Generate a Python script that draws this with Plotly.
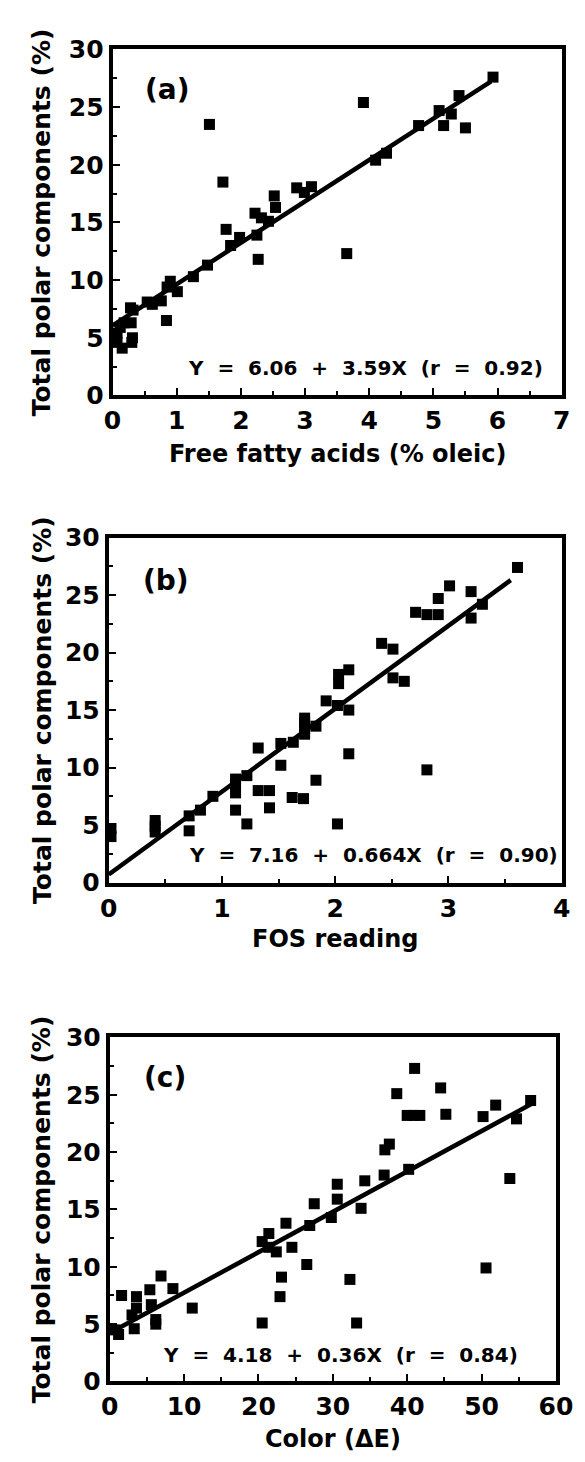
import plotly.graph_objects as go

# ---------------- data ----------------
# Panel (a): Free fatty acids (% oleic) vs total polar components (%)
ffa_x = [5.93, 5.40, 5.28, 5.09, 5.16, 5.50, 4.77, 3.91, 4.27, 4.10,
         1.51, 1.72, 2.87, 2.99, 3.10, 2.52, 2.54, 2.22, 2.32, 2.43,
         1.77, 2.25, 2.27, 1.98, 1.84, 3.65, 1.48, 1.26, 0.90, 1.01,
         0.85, 0.76, 0.54, 0.62, 0.84, 0.28, 0.32, 0.29, 0.31, 0.30,
         0.15, 0.07, 0.07, 0.12, 0.18]
ffa_y = [27.6, 26.0, 24.4, 24.7, 23.4, 23.2, 23.4, 25.4, 21.0, 20.4,
         23.5, 18.5, 18.0, 17.6, 18.1, 17.3, 16.3, 15.8, 15.4, 15.1,
         14.4, 13.9, 11.8, 13.7, 13.0, 12.3, 11.3, 10.3, 9.9, 9.0,
         9.4, 8.2, 8.1, 7.9, 6.5, 7.6, 7.4, 6.3, 5.0, 4.6,
         4.1, 5.4, 4.6, 5.9, 6.3]
ffa_fit_x = [0.0, 5.9]
ffa_fit_y = [6.06, 27.24]
ffa_eq = "Y = 6.06 + 3.59X (r = 0.92)"

# Panel (b): FOS reading vs total polar components (%)
fos_x = [3.61, 3.01, 3.20, 2.91, 3.30, 2.71, 2.81, 2.91, 3.20, 2.41,
         2.51, 2.12, 2.03, 2.03, 2.51, 2.61, 1.92, 2.02, 2.12, 1.73,
         1.73, 1.73, 1.83, 1.73, 1.63, 1.52, 1.32, 2.12, 1.52, 2.81,
         1.22, 1.12, 1.12, 1.83, 1.32, 1.42, 1.12, 0.92, 1.62, 1.72,
         0.81, 1.42, 1.12, 0.71, 0.71, 1.22, 2.02, 0.41, 0.41, 0.41,
         0.02, 0.02]
fos_y = [27.4, 25.8, 25.3, 24.7, 24.2, 23.5, 23.3, 23.3, 23.0, 20.8,
         20.3, 18.5, 18.1, 17.3, 17.8, 17.5, 15.8, 15.4, 15.0, 14.3,
         13.9, 13.4, 13.6, 12.9, 12.2, 12.1, 11.7, 11.2, 10.2, 9.8,
         9.3, 9.0, 8.5, 8.9, 8.0, 8.0, 7.8, 7.5, 7.4, 7.3,
         6.3, 6.5, 6.3, 5.8, 4.5, 5.1, 5.1, 5.4, 4.9, 4.4,
         4.7, 4.0]
fos_fit_x = [0.0, 3.55]
fos_fit_y = [0.7, 26.3]
fos_eq = "Y = 7.16 + 0.664X (r = 0.90)"

# Panel (c): Color (dE) vs total polar components (%)
col_x = [41.0, 44.5, 38.6, 56.6, 51.9, 45.2, 40.0, 40.9, 41.7, 50.2,
         54.7, 37.6, 37.0, 40.2, 36.9, 53.8, 34.3, 30.6, 30.6, 27.5,
         33.8, 29.8, 23.7, 26.9, 21.4, 20.5, 21.4, 22.4, 24.5, 26.5,
         50.6, 23.1, 32.3, 6.9, 8.5, 5.4, 1.6, 3.6, 22.9, 11.1,
         5.6, 3.6, 3.0, 6.2, 6.2, 20.5, 33.2, 3.3, 0.7, 1.2]
col_y = [27.3, 25.6, 25.1, 24.5, 24.1, 23.3, 23.2, 23.2, 23.2, 23.1,
         22.9, 20.7, 20.2, 18.5, 18.0, 17.7, 17.5, 17.2, 15.9, 15.5,
         15.1, 14.3, 13.8, 13.6, 12.9, 12.2, 11.7, 11.3, 11.7, 10.2,
         9.9, 9.1, 8.9, 9.2, 8.1, 8.0, 7.5, 7.4, 7.4, 6.4,
         6.7, 6.4, 5.8, 5.4, 5.0, 5.1, 5.1, 4.6, 4.5, 4.1]
col_fit_x = [0.5, 57.0]
col_fit_y = [4.4, 24.3]
col_eq = "Y = 4.18 + 0.36X (r = 0.84)"

y_ticks = [0, 5, 10, 15, 20, 25, 30]
ffa_ticks = [0, 1, 2, 3, 4, 5, 6, 7]
fos_ticks = [0, 1, 2, 3, 4]
col_ticks = [0, 10, 20, 30, 40, 50, 60]

y_title = "Total polar components (%)"
x_titles = ["Free fatty acids (% oleic)", "FOS reading", "Color (\u0394E)"]
panel_labels = ["(a)", "(b)", "(c)"]

# ---------------- figure ----------------
FONT = "DejaVu Sans"
W, H = 585, 1462

fig = go.Figure()

panels = [
    (ffa_x, ffa_y, ffa_fit_x, ffa_fit_y, "x", "y"),
    (fos_x, fos_y, fos_fit_x, fos_fit_y, "x2", "y2"),
    (col_x, col_y, col_fit_x, col_fit_y, "x3", "y3"),
]
for px, py, fx, fy, xa, ya in panels:
    fig.add_trace(go.Scatter(x=fx, y=fy, mode="lines", xaxis=xa, yaxis=ya,
                             line=dict(color="black", width=4.5), cliponaxis=False,
                             hoverinfo="skip"))
    fig.add_trace(go.Scatter(x=px, y=py, mode="markers", xaxis=xa, yaxis=ya,
                             marker=dict(symbol="square", size=11, color="black"),
                             cliponaxis=False))

# pixel boxes (left, right, top, bottom)
boxes = [(100, 570, 28, 381), (96, 570, 526, 878), (97, 564, 1036, 1387)]

def xdom(b):
    return [b[0] / W, b[1] / W]

def ydom(b):
    return [1 - b[3] / H, 1 - b[2] / H]

tickfont = dict(family=FONT, size=25, color="black", weight="bold")
titlefont = dict(family=FONT, size=24, color="black", weight="bold")

def xaxis(b, rng, ticks, minor, anchor):
    return dict(domain=xdom(b), range=rng, anchor=anchor, tickvals=ticks,
                showgrid=False, zeroline=False, showline=True, linecolor="black",
                linewidth=4, mirror=True, ticks="inside", ticklen=7, tickwidth=2,
                tickcolor="black", tickfont=tickfont,
                minor=dict(ticks="inside", ticklen=4, tickwidth=2, tickcolor="black",
                           dtick=minor, showgrid=False))

def yaxis(b, anchor):
    return dict(domain=ydom(b), range=[0, 30], anchor=anchor, tickvals=y_ticks,
                showgrid=False, zeroline=False, showline=True, linecolor="black",
                linewidth=4, mirror=True, ticks="inside", ticklen=7, tickwidth=2,
                tickcolor="black", tickfont=tickfont,
                minor=dict(ticks="inside", ticklen=4, tickwidth=2, tickcolor="black",
                           dtick=2.5, showgrid=False))

fig.update_layout(
    width=W, height=H, margin=dict(l=0, r=0, t=0, b=0),
    paper_bgcolor="white", plot_bgcolor="white", showlegend=False,
    xaxis=xaxis(boxes[0], [0, 7], ffa_ticks, 0.5, "y"),
    yaxis=yaxis(boxes[0], "x"),
    xaxis2=xaxis(boxes[1], [0, 4], fos_ticks, 0.5, "y2"),
    yaxis2=yaxis(boxes[1], "x2"),
    xaxis3=xaxis(boxes[2], [0, 60], col_ticks, 5, "y3"),
    yaxis3=yaxis(boxes[2], "x3"),
)

NB = "\u00a0"
def spaced(s):
    return s.replace(" ", " " + NB)

label_pos = [(0.85, 26.5), (0.51, 26.3), (7.4, 26.5)]
eq_pos = [(3.94, 2.4), (2.34, 2.4), (31.0, 2.3)]
xtitle_y = [441, 936, 1446]   # pixel centres of x-axis titles
ytitle_x = 26                  # pixel centre of y-axis titles
eqs = [ffa_eq, fos_eq, col_eq]
refs = [("x", "y"), ("x2", "y2"), ("x3", "y3")]
for i in range(3):
    xr, yr = refs[i]
    b = boxes[i]
    fig.add_annotation(x=label_pos[i][0], y=label_pos[i][1], xref=xr, yref=yr,
                       text=panel_labels[i], showarrow=False,
                       font=dict(family=FONT, size=28, color="black", weight="bold"))
    fig.add_annotation(x=eq_pos[i][0], y=eq_pos[i][1], xref=xr, yref=yr,
                       text=spaced(eqs[i]), showarrow=False,
                       font=dict(family=FONT, size=20, color="black", weight="bold"))
    # x-axis title
    fig.add_annotation(x=(b[0] + b[1]) / 2 / W, y=1 - xtitle_y[i] / H,
                       xref="paper", yref="paper", text=x_titles[i], showarrow=False,
                       xanchor="center", yanchor="middle", font=titlefont)
    # y-axis title
    fig.add_annotation(x=ytitle_x / W, y=1 - (b[2] + b[3]) / 2 / H,
                       xref="paper", yref="paper", text=y_title, showarrow=False,
                       textangle=-90, xanchor="center", yanchor="middle",
                       font=dict(family=FONT, size=25, color="black", weight="bold"))

fig.write_html("out.html")
